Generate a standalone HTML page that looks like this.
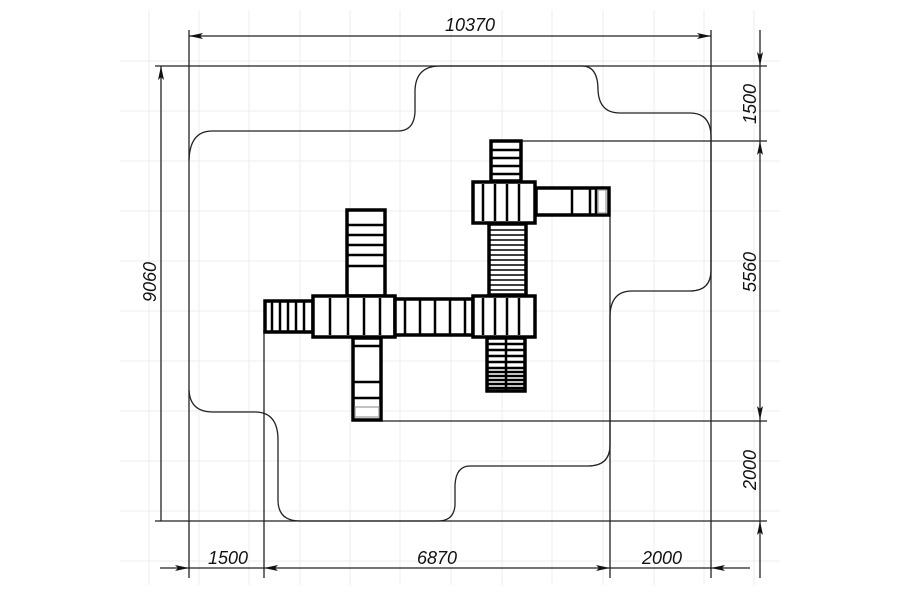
<!DOCTYPE html>
<html><head><style>
html,body{margin:0;padding:0;background:#fff;}
svg{display:block;}
text{font-family:"Liberation Sans",sans-serif;font-style:italic;font-size:18px;fill:#111;}
</style></head><body>
<svg width="900" height="600" viewBox="0 0 900 600" xmlns="http://www.w3.org/2000/svg">
<defs>
<marker id="a" markerWidth="14" markerHeight="6" refX="14" refY="3" orient="auto" markerUnits="userSpaceOnUse">
<path d="M0,0 L14,3 L0,6 L3,3 z" fill="#111"/></marker>
<marker id="b" markerWidth="14" markerHeight="6" refX="0" refY="3" orient="auto" markerUnits="userSpaceOnUse">
<path d="M14,0 L0,3 L14,6 L11,3 z" fill="#111"/></marker>
</defs>
<g stroke="#ececec" stroke-width="1">
<path d="M149 10V585M199 10V585M249 10V585M300 10V585M350 10V585M400 10V585M451 10V585M502 10V585M552 10V585M603 10V585M654 10V585M704 10V585M754 10V585"/>
<path d="M120 61H780M120 111H780M120 161H780M120 211H780M120 261H780M120 311H780M120 361H780M120 411H780M120 461H780M120 511H780M120 561H780"/>
</g>
<g stroke="#222" stroke-width="1.3" fill="none">
<path d="M155 66H767M155 521H767M189 30V578M711 30V578"/>
<path d="M520 141H767M380 421H767M264 330V578M610 215V578"/>
<path d="M189 36H711" marker-start="url(#b)" marker-end="url(#a)"/>
<path d="M161 521V66" marker-end="url(#a)"/>
<path d="M760 30V66" marker-end="url(#a)"/>
<path d="M760 66V141" />
<path d="M760 141V420" marker-start="url(#b)" marker-end="url(#a)"/>
<path d="M760 420V521"/>
<path d="M760 578V521" marker-end="url(#a)"/>
<path d="M160 568H189" marker-end="url(#a)"/>
<path d="M189 568H264"/>
<path d="M264 568H610" marker-start="url(#b)" marker-end="url(#a)"/>
<path d="M610 568H711"/>
<path d="M750 568H711" marker-end="url(#a)"/>
<path d="M189 160Q190 131 212 131H398Q414 131 415 112V90Q416 66 440 66H582Q598 66 598 90Q599 113 620 113H690Q710 113 711 135V270Q711 291 690 291H632Q611 291 610 315V445Q610 466 588 466H470Q456 466 455 485V505Q454 521 438 521H300Q278 521 278 500V440Q278 412 255 412H213Q190 412 189 390"/>
</g>
<text x="470" y="31" text-anchor="middle">10370</text>
<text transform="translate(156,282) rotate(-90)" text-anchor="middle">9060</text>
<text transform="translate(756,104) rotate(-90)" text-anchor="middle">1500</text>
<text transform="translate(756,272) rotate(-90)" text-anchor="middle">5560</text>
<text transform="translate(756,470) rotate(-90)" text-anchor="middle">2000</text>
<text x="228" y="564" text-anchor="middle">1500</text>
<text x="437" y="564" text-anchor="middle">6870</text>
<text x="662" y="564" text-anchor="middle">2000</text>
<g stroke="#000" stroke-width="3.5" fill="#fff">
<rect x="491" y="141" width="30" height="40"/>
<path d="M491 150H521M491 158H521M491 166H521M491 174H521" stroke-width="2.5"/>
<rect x="536" y="188" width="73" height="27"/>
<path d="M572 188V215M590 188V215M596 188V215" stroke-width="2.5"/>
<rect x="598" y="190" width="8" height="23" stroke="#999" stroke-width="1.2" fill="none"/>
<rect x="473" y="182" width="62" height="41"/>
<path d="M483 184V221M495 184V221M507 184V221M519 184V221" stroke-width="2.5"/>
<rect x="489" y="224" width="37" height="71" fill="#fff"/>
<path d="M489 230H526M489 235H526M489 240H526M489 245H526M489 250H526M489 255H526M489 260H526M489 265H526M489 270H526M489 275H526M489 280H526M489 285H526M489 290H526" stroke-width="1.6"/>
<rect x="487" y="338" width="38" height="53" fill="#fff"/>
<path d="M487 344H525M487 350H525M487 356H525M487 362H525M487 368H525M487 372H525M487 376H525M487 380H525M487 384H525M487 388H525M506 338V391" stroke-width="2.5"/>
<rect x="347" y="210" width="38" height="86"/>
<path d="M347 225H385M347 235H385M347 245H385M347 255H385M347 266H385" stroke-width="2.5"/>
<rect x="353" y="338" width="28" height="82"/>
<path d="M353 346H381M353 382H381M353 398H381" stroke-width="2.5"/>
<rect x="355" y="407" width="24" height="10" stroke="#999" stroke-width="1.2" fill="none"/>
<rect x="265" y="301" width="48" height="31"/>
<path d="M272 301V332M280 301V332M288 301V332M296 301V332M304 301V332" stroke-width="2.5"/>
<rect x="313" y="296" width="82" height="41"/>
<path d="M330 298V335M348 298V335M364 298V335M380 298V335" stroke-width="2.5"/>
<rect x="395" y="299" width="78" height="36"/>
<path d="M405 299V335M420 299V335M435 299V335M450 299V335M465 299V335" stroke-width="2.5"/>
<rect x="473" y="296" width="62" height="41"/>
<path d="M483 298V335M495 298V335M507 298V335M519 298V335" stroke-width="2.5"/>
</g>
</svg>
</body></html>
